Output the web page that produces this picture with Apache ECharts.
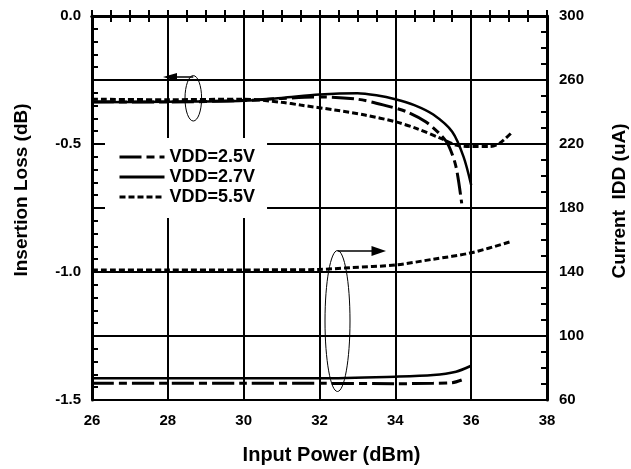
<!DOCTYPE html>
<html>
<head>
<meta charset="utf-8">
<script src="https://cdn.jsdelivr.net/npm/echarts@6/dist/echarts.min.js"></script>
<style>
  html, body { margin: 0; padding: 0; background: #fff; }
  #main { width: 631px; height: 469px; }
</style>
</head>
<body>
<div id="main"></div>
<script>
// x: input power (dBm), insertion loss (dB) and current (uA)
var ilVdd25 = [[26, -0.335], [28, -0.336], [30, -0.33], [31, -0.322], [32, -0.316], [33, -0.325], [33.8, -0.352],
  [34.3, -0.374], [34.8, -0.413], [35.2, -0.465], [35.4, -0.504], [35.6, -0.589], [35.75, -0.732]]
var ilVdd27 = [[26, -0.337], [28, -0.335], [30, -0.331], [31, -0.32], [32, -0.307], [33, -0.302], [33.5, -0.31],
  [34, -0.325], [34.5, -0.348], [35, -0.385], [35.5, -0.452], [35.8, -0.55], [36, -0.66]]
var ilVdd55 = [[26, -0.325], [28, -0.327], [30, -0.325], [31, -0.337], [31.5, -0.348], [32.4, -0.367], [33.2, -0.387],
  [34, -0.413], [34.55, -0.439], [35.2, -0.478], [35.6, -0.504], [36, -0.51], [36.5, -0.51], [36.75, -0.497], [37.05, -0.458]]

var iddVdd25 = [[26, 70.4], [28, 70.4], [30, 70.4], [32, 70.4], [34, 70.2], [35, 70.4], [35.5, 70.8], [35.75, 72.5]]
var iddVdd27 = [[26, 73.6], [28, 73.6], [30, 73.6], [32, 73.6], [34, 74.6], [35, 75.6], [35.6, 77.7], [36, 81.4]]
var iddVdd55 = [[26, 141.2], [28, 141.2], [30, 141.3], [32, 141.6], [32.8, 142.7], [34, 144.4], [35, 148], [36, 152], [37.05, 159]]

var names = ['VDD=2.5V', 'VDD=2.7V', 'VDD=5.5V']
var font = 'Liberation Sans, Arial, sans-serif'

var dash25 = [22, 5, 8, 5]
var dash55 = [6, 3]

function lineSeries(name, data, yIdx, dash, width) {
  return {
    name: name,
    type: 'line',
    yAxisIndex: yIdx,
    data: data,
    smooth: 0.3,
    symbol: 'none',
    itemStyle: { color: '#000' },
    lineStyle: { color: '#000', width: width, type: dash }
  }
}

var myChart = echarts.init(document.getElementById('main'))

var option = {
  animation: false,
  backgroundColor: '#fff',
  grid: { left: 92, top: 16, width: 455, height: 384 },
  legend: {
    data: names,
    orient: 'vertical',
    left: 105,
    top: 138,
    padding: [10, 12, 12, 13],
    backgroundColor: '#fff',
    itemWidth: 45,
    itemHeight: 18,
    itemGap: 2,
    itemStyle: { opacity: 0 },
    lineStyle: { width: 3 },
    textStyle: { fontFamily: font, fontWeight: 'bold', fontSize: 18, color: '#000' }
  },
  xAxis: [
    {
      type: 'value', min: 26, max: 38, interval: 2, position: 'bottom',
      axisLine: { lineStyle: { color: '#000', width: 3 } },
      axisTick: { show: true, inside: true, length: 6, lineStyle: { color: '#000', width: 2 } },
      minorTick: { show: true, splitNumber: 4, length: 6, lineStyle: { color: '#000', width: 2 } },
      splitLine: { show: true, lineStyle: { color: '#000', width: 2 } },
      axisLabel: { margin: 13, color: '#000', fontFamily: font, fontWeight: 'bold', fontSize: 15 }
    },
    {
      type: 'value', min: 26, max: 38, interval: 2, position: 'top',
      axisLine: { lineStyle: { color: '#000', width: 3 } },
      axisTick: { show: true, inside: true, length: 6, lineStyle: { color: '#000', width: 2 } },
      minorTick: { show: true, splitNumber: 4, length: 6, lineStyle: { color: '#000', width: 2 } },
      splitLine: { show: false },
      axisLabel: { show: false }
    }
  ],
  yAxis: [
    {
      type: 'value', min: -1.5, max: 0, interval: 0.25, position: 'left',
      axisLine: { show: true, lineStyle: { color: '#000', width: 3 } },
      axisTick: { show: true, inside: true, length: 6, lineStyle: { color: '#000', width: 2 } },
      minorTick: { show: true, splitNumber: 5, length: 6, lineStyle: { color: '#000', width: 2 } },
      splitLine: { show: true, lineStyle: { color: '#000', width: 2 } },
      axisLabel: {
        margin: 11, color: '#000', fontFamily: font, fontWeight: 'bold', fontSize: 15,
        formatter: function (v) {
          return Math.abs(v * 2 - Math.round(v * 2)) < 1e-6 ? v.toFixed(1) : ''
        }
      }
    },
    {
      type: 'value', min: 60, max: 300, interval: 40, position: 'right',
      axisLine: { show: true, lineStyle: { color: '#000', width: 3 } },
      axisTick: { show: true, inside: true, length: 6, lineStyle: { color: '#000', width: 2 } },
      minorTick: { show: true, splitNumber: 4, length: 6, lineStyle: { color: '#000', width: 2 } },
      splitLine: { show: false },
      axisLabel: { margin: 12, color: '#000', fontFamily: font, fontWeight: 'bold', fontSize: 15 }
    }
  ],
  series: [
    lineSeries(names[0], ilVdd25, 0, dash25, 3),
    lineSeries(names[1], ilVdd27, 0, 'solid', 2.5),
    lineSeries(names[2], ilVdd55, 0, dash55, 3),
    lineSeries(names[0], iddVdd25, 1, dash25, 3),
    lineSeries(names[1], iddVdd27, 1, 'solid', 2.5),
    lineSeries(names[2], iddVdd55, 1, dash55, 3)
  ],
  graphic: [
    // title cut off at the top edge
    { type: 'text', x: 329, y: -9.3, style: { text: '(f = 900 MHz, T = 25°C)', fill: '#000', font: 'bold 21px ' + font, align: 'center', verticalAlign: 'middle' } },
    { type: 'text', x: 22, y: 190, rotation: Math.PI / 2, style: { text: 'Insertion Loss (dB)', fill: '#000', font: 'bold 19px ' + font, align: 'center', verticalAlign: 'middle' } },
    { type: 'text', x: 619.5, y: 201, rotation: Math.PI / 2, style: { text: 'Current  IDD (uA)', fill: '#000', font: 'bold 19px ' + font, align: 'center', verticalAlign: 'middle' } },
    { type: 'text', x: 331.5, y: 455, style: { text: 'Input Power (dBm)', fill: '#000', font: 'bold 20px ' + font, align: 'center', verticalAlign: 'middle' } },
    // left annotation: ellipse + arrow to the left axis
    { type: 'ellipse', z: 10, shape: { cx: 193.3, cy: 98.3, rx: 8.3, ry: 22.7 }, style: { fill: 'none', stroke: '#000', lineWidth: 1 } },
    { type: 'line', z: 10, shape: { x1: 193.3, y1: 77, x2: 175, y2: 77 }, style: { stroke: '#000', lineWidth: 1.5 } },
    { type: 'polygon', z: 10, shape: { points: [[163, 77], [177, 73], [177, 81]] }, style: { fill: '#000' } },
    // right annotation: ellipse + arrow to the right axis
    { type: 'ellipse', z: 10, shape: { cx: 337.5, cy: 321, rx: 12.5, ry: 70.5 }, style: { fill: 'none', stroke: '#000', lineWidth: 1 } },
    { type: 'line', z: 10, shape: { x1: 337.5, y1: 251, x2: 374, y2: 251 }, style: { stroke: '#000', lineWidth: 1.5 } },
    { type: 'polygon', z: 10, shape: { points: [[386, 251], [371.5, 246], [371.5, 256]] }, style: { fill: '#000' } }
  ]
}

myChart.setOption(option)
</script>
</body>
</html>
